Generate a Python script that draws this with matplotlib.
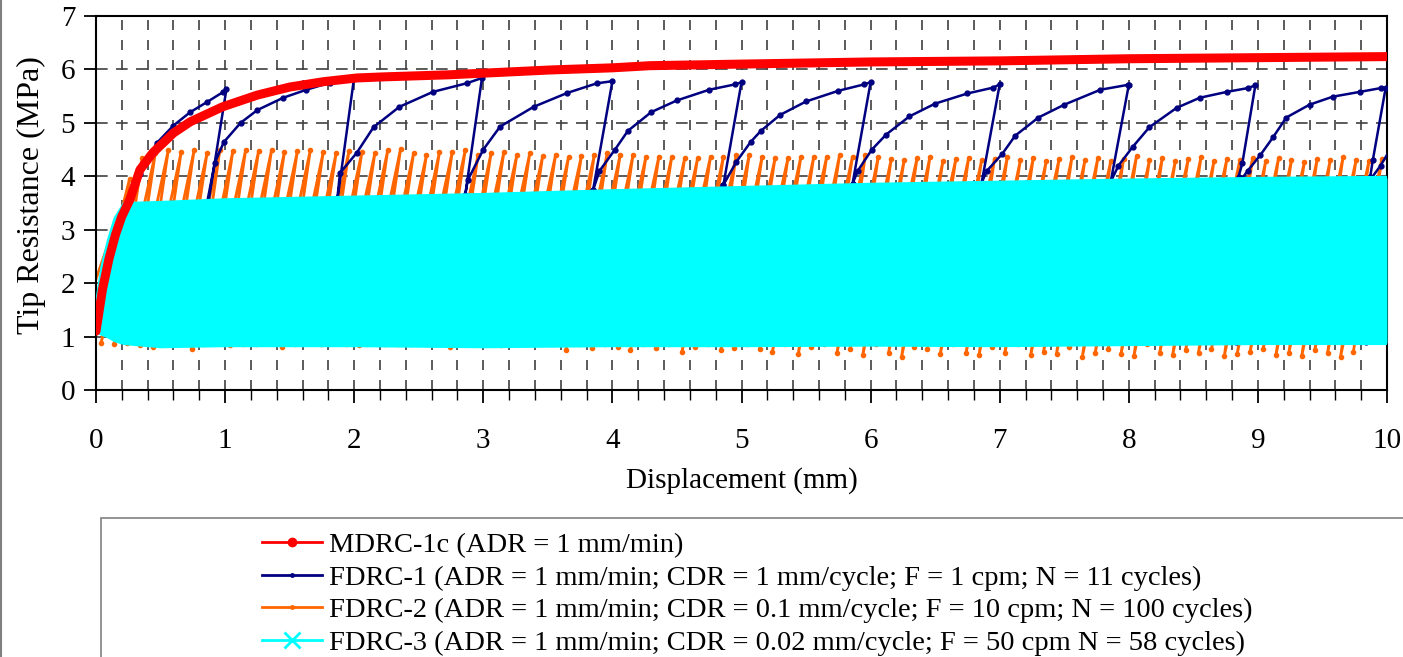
import matplotlib
matplotlib.use("Agg")
import matplotlib.pyplot as plt
from matplotlib.lines import Line2D
from matplotlib.patches import Rectangle
from matplotlib.ticker import MultipleLocator

plt.rcParams['font.family'] = ['Liberation Serif', 'DejaVu Serif']

# ---------------- data ----------------
# MDRC-1c (monotonic)
red_x = [0.0, 0.05, 0.10, 0.15, 0.20, 0.26, 0.34, 0.44, 0.60, 0.73, 0.98, 1.25, 1.50, 1.76,
         2.02, 2.22, 2.74, 3.0, 3.52, 4.0, 4.29, 5.0, 6.0, 7.0, 8.0, 9.0, 10.0]
red_y = [1.10, 1.88, 2.45, 2.90, 3.25, 3.55, 4.12, 4.44, 4.81, 5.02, 5.30, 5.52, 5.67, 5.77,
         5.84, 5.86, 5.90, 5.93, 5.99, 6.03, 6.07, 6.10, 6.14, 6.16, 6.20, 6.22, 6.24]

# FDRC-1 (1 mm/cycle)
blue_x = [0.0, 0.05, 0.10, 0.15, 0.26, 0.34, 0.47, 0.60, 0.73, 0.86, 0.98, 1.01,
          0.87, 0.84,
          0.86, 0.92, 0.99, 1.12, 1.25, 1.45, 1.63, 1.81, 1.99, 2.00,
          1.87, 1.84,
          1.87, 1.89, 2.02, 2.15, 2.35, 2.61, 2.87, 2.99,
          2.86, 2.83,
          2.86, 2.88, 3.00, 3.13, 3.39, 3.65, 3.88, 4.00,
          3.85, 3.82,
          3.85, 3.90, 4.02, 4.12, 4.30, 4.50, 4.75, 4.95, 5.00,
          4.86, 4.83,
          4.86, 4.96, 5.07, 5.15, 5.30, 5.50, 5.75, 5.95, 6.00,
          5.86, 5.83,
          5.86, 5.90, 6.01, 6.12, 6.30, 6.50, 6.75, 6.95, 7.00,
          6.86, 6.83,
          6.86, 6.90, 7.02, 7.12, 7.30, 7.50, 7.78, 7.99, 8.00,
          7.86, 7.83,
          7.86, 7.92, 8.03, 8.16, 8.37, 8.55, 8.76, 8.92, 8.98,
          8.88, 8.85, 8.83,
          8.86, 8.92, 9.02, 9.12, 9.22, 9.40, 9.58, 9.79, 9.95, 9.99,
          9.89, 9.87, 9.84,
          9.86, 9.95, 10.05]
blue_y = [1.10, 1.80, 2.50, 3.00, 3.60, 4.05, 4.62, 4.95, 5.20, 5.39, 5.57, 5.63,
          3.50, 0.90,
          3.50, 4.25, 4.64, 5.00, 5.24, 5.47, 5.62, 5.75, 5.84, 5.86,
          3.56, 0.90,
          3.60, 4.06, 4.44, 4.92, 5.30, 5.58, 5.74, 5.84,
          3.65, 0.90,
          3.65, 3.93, 4.50, 4.93, 5.30, 5.56, 5.74, 5.78,
          3.74, 0.90,
          3.74, 4.10, 4.50, 4.85, 5.20, 5.42, 5.62, 5.72, 5.76,
          3.84, 0.90,
          3.84, 4.27, 4.64, 4.85, 5.15, 5.40, 5.60, 5.72, 5.76,
          3.86, 0.90,
          3.86, 4.10, 4.50, 4.78, 5.12, 5.36, 5.55, 5.66, 5.72,
          3.88, 0.90,
          3.88, 4.10, 4.42, 4.76, 5.10, 5.34, 5.62, 5.71, 5.71,
          3.90, 0.90,
          3.90, 4.20, 4.55, 4.92, 5.28, 5.47, 5.58, 5.65, 5.70,
          4.25, 3.99, 0.90,
          3.90, 4.10, 4.40, 4.74, 5.10, 5.34, 5.49, 5.58, 5.65, 5.66,
          4.30, 3.99, 0.90,
          3.90, 4.20, 4.60]

# FDRC-2 (0.1 mm/cycle, 100 cycles): peak and trough of each cycle
orange_cdr = 0.1
orange_first_peak = 0.06
orange_peaks = [1.90, 3.20, 3.95, 4.35, 4.44, 4.49, 4.46, 4.49, 4.43, 4.50,
                4.47, 4.50, 4.48, 4.49, 4.46, 4.47, 4.49, 4.45, 4.43, 4.48,
                4.46, 4.43, 4.49, 4.52, 4.43, 4.40, 4.45, 4.46, 4.49, 4.40,
                4.43, 4.46, 4.40, 4.43, 4.38, 4.40, 4.36, 4.38, 4.40, 4.43,
                4.40, 4.40, 4.37, 4.37, 4.37, 4.34, 4.34, 4.37, 4.37, 4.40,
                4.40, 4.37, 4.34, 4.34, 4.37, 4.37, 4.37, 4.40, 4.37, 4.40,
                4.37, 4.32, 4.30, 4.34, 4.37, 4.28, 4.32, 4.35, 4.30, 4.33,
                4.37, 4.30, 4.34, 4.28, 4.32, 4.36, 4.30, 4.34, 4.28, 4.33,
                4.38, 4.30, 4.35, 4.28, 4.32, 4.37, 4.29, 4.33, 4.30, 4.35,
                4.28, 4.34, 4.30, 4.27, 4.33, 4.30, 4.36, 4.30, 4.28, 4.32]
orange_troughs = [0.95, 0.90, 0.88, 0.86, 0.88, 0.85, 0.80, 0.86, 0.88, 0.76,
                  0.86, 0.88, 0.85, 0.87, 0.86, 0.88, 0.80, 0.86, 0.88, 0.86,
                  0.88, 0.86, 0.85, 0.88, 0.86, 0.87, 0.86, 0.88, 0.86, 0.80,
                  0.86, 0.88, 0.86, 0.85, 0.87, 0.86, 0.88, 0.86, 0.74, 0.86,
                  0.78, 0.86, 0.80, 0.74, 0.86, 0.78, 0.86, 0.72, 0.80, 0.86,
                  0.74, 0.78, 0.86, 0.76, 0.72, 0.86, 0.68, 0.80, 0.86, 0.70,
                  0.76, 0.66, 0.86, 0.70, 0.62, 0.80, 0.76, 0.68, 0.86, 0.70,
                  0.66, 0.80, 0.70, 0.86, 0.65, 0.72, 0.68, 0.80, 0.62, 0.70,
                  0.76, 0.68, 0.64, 0.86, 0.70, 0.66, 0.74, 0.70, 0.76, 0.64,
                  0.68, 0.72, 0.76, 0.66, 0.70, 0.64, 0.74, 0.70, 0.62, 0.72]
orange_unload_dx = 0.22

# FDRC-3 (0.02 mm/cycle) - envelope of the dense cyclic band
cyan_x = [0.0, 0.05, 0.10, 0.15, 0.22, 0.5, 1.0, 2.0, 3.0, 4.0, 5.0, 6.0, 7.0, 8.0, 9.0, 10.0]
cyan_upper = [1.50, 2.30, 2.80, 3.20, 3.48, 3.50, 3.55, 3.60, 3.65, 3.72, 3.78, 3.84, 3.88, 3.92, 3.95, 3.97]
cyan_lower = [1.10, 1.05, 1.00, 0.93, 0.88, 0.82, 0.84, 0.84, 0.82, 0.84, 0.84, 0.85, 0.84, 0.86, 0.88, 0.88]

labels = ["MDRC-1c (ADR = 1 mm/min)",
          "FDRC-1 (ADR = 1 mm/min; CDR = 1 mm/cycle; F = 1 cpm; N = 11 cycles)",
          "FDRC-2 (ADR = 1 mm/min; CDR = 0.1 mm/cycle; F = 10 cpm; N = 100 cycles)",
          "FDRC-3 (ADR = 1 mm/min; CDR = 0.02 mm/cycle; F = 50 cpm N = 58 cycles)"]

RED, BLUE, ORANGE, CYAN = '#FF0000', '#000080', '#FF6600', '#00FFFF'

# build orange path: peak -> unload to trough -> reload to next peak
ox, oy = [0.0], [1.15]
for k, (p, t) in enumerate(zip(orange_peaks, orange_troughs)):
    xp = orange_first_peak + orange_cdr * k
    ox += [xp, xp - orange_unload_dx]
    oy += [p, t]

# ---------------- figure ----------------
fig = plt.figure(figsize=(14.03, 6.57), dpi=100)
ax = fig.add_axes([96/1403, 1 - 390/657, (1387-96)/1403, (390-16)/657])

ax.plot(ox, oy, color=ORANGE, lw=2.0, marker='o', ms=3, zorder=2, solid_joinstyle='round')
ax.plot(blue_x, blue_y, color=BLUE, lw=1.8, marker='o', ms=3.5, zorder=4)
ax.fill_between(cyan_x, cyan_lower, cyan_upper, color=CYAN, lw=0, zorder=5)
ax.plot(cyan_x, cyan_upper, color=CYAN, lw=3, zorder=5)
ax.plot(cyan_x, cyan_lower, color=CYAN, lw=3, zorder=5)
ax.plot(red_x, red_y, color=RED, lw=6.5, solid_capstyle='round', solid_joinstyle='round', zorder=6)

ax.set_xlim(0, 10)
ax.set_ylim(0, 7)
ax.xaxis.set_major_locator(MultipleLocator(1))
ax.xaxis.set_minor_locator(MultipleLocator(0.2))
ax.yaxis.set_major_locator(MultipleLocator(1))
ax.grid(True, which='both', axis='x', color='#404040', lw=1.2, ls=(0, (6, 6)), zorder=0)
ax.grid(True, which='major', axis='y', color='#404040', lw=1.2, ls=(0, (7, 5)), zorder=0)
ax.set_axisbelow(True)
ax.tick_params(axis='both', which='major', direction='out', length=9, width=1.3, labelsize=21, pad=6)
ax.tick_params(axis='x', which='minor', direction='out', length=7, width=1.0)
ax.tick_params(axis='x', which='major', pad=18)
for s in ax.spines.values():
    s.set_color('black')
    s.set_linewidth(1.5)

ax.set_xlabel("Displacement (mm)", fontsize=21, labelpad=10)
ax.set_ylabel("Tip Resistance (MPa)", fontsize=23)
ax.yaxis.set_label_coords(-0.039, 0.52)

# legend box
fig.patches.append(Rectangle((101/1403, -0.02), 1.0, (657-518)/657 + 0.02,
                             transform=fig.transFigure, fill=False, edgecolor='#808080', lw=1.2))
handles = [Line2D([], [], color=RED, lw=2, marker='o', ms=6),
           Line2D([], [], color=BLUE, lw=2, marker='o', ms=2.5),
           Line2D([], [], color=ORANGE, lw=2, marker='o', ms=2.5),
           Line2D([], [], color=CYAN, lw=2, marker='x', ms=12, mew=2)]
fig.legend(handles, labels, loc='upper left', bbox_to_anchor=(262/1403, 1 - 532/657),
           frameon=False, fontsize=20.5, handlelength=2.1, handletextpad=0.25,
           labelspacing=0.24, borderpad=0, borderaxespad=0)

fig.add_artist(Line2D([0.0008, 0.0008], [0, 1], transform=fig.transFigure, color='#808080', lw=1.5))

fig.savefig("out.png", dpi=100)
